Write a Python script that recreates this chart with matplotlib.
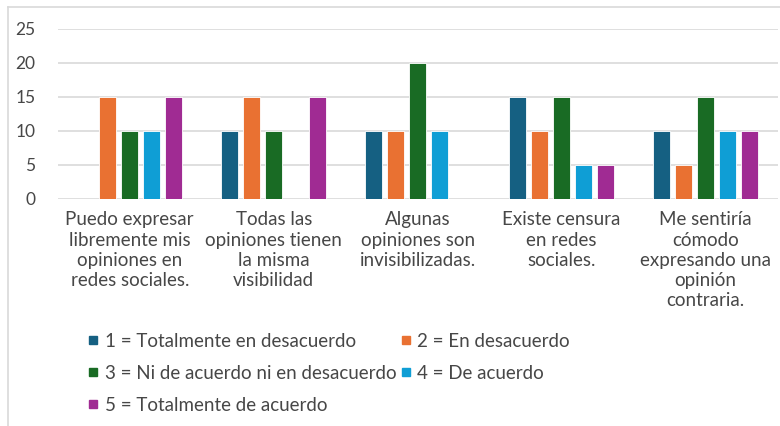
import matplotlib.pyplot as plt
from matplotlib.lines import Line2D
import numpy as np

# ---------- data ----------
categories = [
    "Puedo expresar\nlibremente mis\nopiniones en\nredes sociales.",
    "Todas las\nopiniones tienen\nla misma\nvisibilidad",
    "Algunas\nopiniones son\ninvisibilizadas.",
    "Existe censura\nen redes\nsociales.",
    "Me sentiría\ncómodo\nexpresando una\nopinión\ncontraria.",
]
series_labels = [
    "1 = Totalmente en desacuerdo",
    "2 = En desacuerdo",
    "3 = Ni de acuerdo ni en desacuerdo",
    "4 = De acuerdo",
    "5 = Totalmente de acuerdo",
]
s1 = [0, 10, 10, 15, 10]
s2 = [15, 15, 10, 10, 5]
s3 = [10, 10, 20, 15, 15]
s4 = [10, 0, 10, 5, 10]
s5 = [15, 15, 0, 5, 10]
series = [s1, s2, s3, s4, s5]
colors = ["#156082", "#E97132", "#196B24", "#0F9ED5", "#A02B93"]
yticks = [0, 5, 10, 15, 20, 25]

plt.rcParams["font.family"] = ["Lato", "DejaVu Sans"]
FS = 13.5
TXT = "#474747"

fig = plt.figure(figsize=(7.8, 4.26), dpi=100)
ax = fig.add_axes([0.074, 0.533, 0.923, 0.399])

x = np.arange(len(categories))
pitch = 0.153
width = 0.118
for i, (vals, col) in enumerate(zip(series, colors)):
    ax.bar(x + (i - 2) * pitch, vals, width, color=col,
           edgecolor="white", linewidth=0.6, zorder=3)

ax.set_xlim(-0.5, len(categories) - 0.5)
ax.set_ylim(0, 25)
ax.set_yticks(yticks)
ax.yaxis.grid(True, color="#d9d9d9", linewidth=1.2, zorder=0)
for s in ax.spines.values():
    s.set_visible(False)
ax.tick_params(axis="both", length=0, labelsize=12.5, colors=TXT)
ax.tick_params(axis="y", pad=16)
ax.set_xticks(x)
ax.set_xticklabels(categories, fontsize=FS, color=TXT, linespacing=1.22)
ax.tick_params(axis="x", pad=9)

# legend: ordered so rows read 1,2 / 3,4 / 5
order = [0, 2, 4, 1, 3]
handles = [Line2D([0], [0], marker="s", linestyle="", markersize=6,
                  markerfacecolor=colors[i], markeredgecolor=colors[i])
           for i in order]
fig.legend(handles, [series_labels[i] for i in order], ncol=2,
           loc="upper left", bbox_to_anchor=(0.103, 0.236),
           frameon=False, fontsize=FS, labelcolor=TXT,
           handlelength=0.6, handletextpad=0.3, columnspacing=0.2,
           labelspacing=0.8, borderaxespad=0)

# chart frame
fig.add_artist(Line2D([0.0105, 0.0105], [0, 0.984], color="#d9d9d9",
                      linewidth=1.2, transform=fig.transFigure))
fig.add_artist(Line2D([0.0105, 1.0], [0.984, 0.984], color="#d9d9d9",
                      linewidth=1.2, transform=fig.transFigure))

fig.savefig("out.png", dpi=100)
